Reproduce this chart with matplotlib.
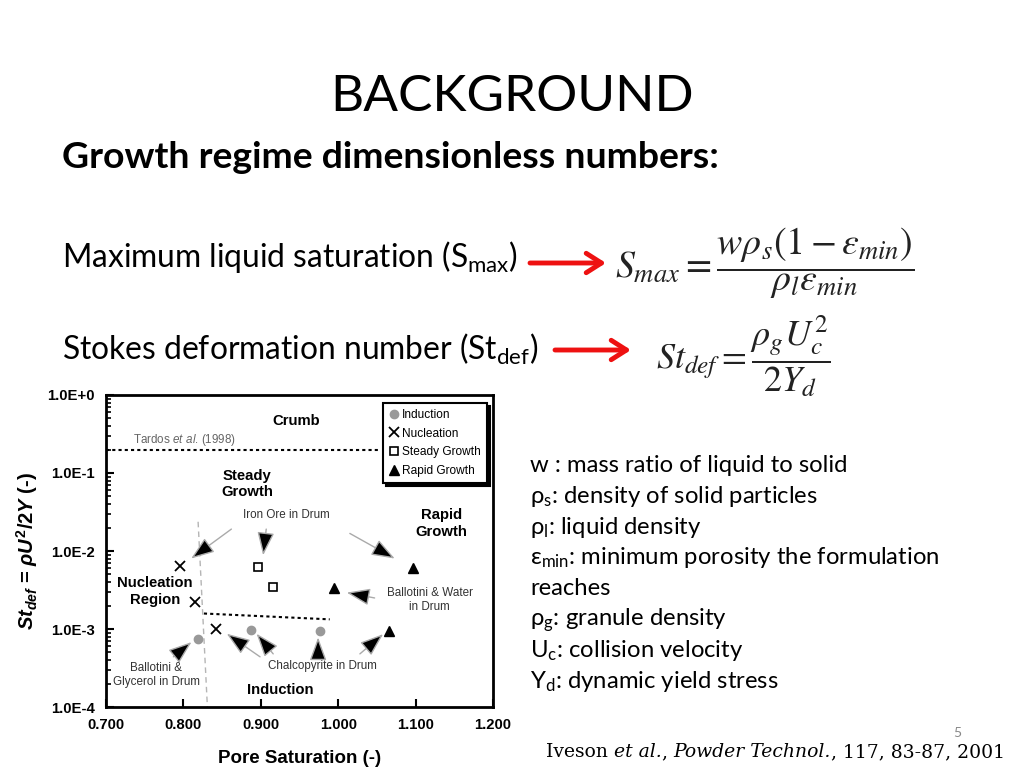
import numpy as np
import matplotlib
matplotlib.use("Agg")
import matplotlib.pyplot as plt
from matplotlib.lines import Line2D

# ---- data ----
induction_x = [0.819, 0.887, 0.976]
induction_y = [0.75e-3, 0.98e-3, 0.95e-3]
nucleation_x = [0.796, 0.815, 0.842]
nucleation_y = [6.4e-3, 2.25e-3, 0.99e-3]
steady_x = [0.896, 0.916]
steady_y = [6.3e-3, 3.5e-3]
rapid_x = [1.096, 0.994, 1.065]
rapid_y = [6.1e-3, 3.4e-3, 0.94e-3]

xticks = [0.7, 0.8, 0.9, 1.0, 1.1, 1.2]
xtick_labels = ["0.700", "0.800", "0.900", "1.000", "1.100", "1.200"]
yticks = [1e-4, 1e-3, 1e-2, 1e-1, 1e0]
ytick_labels = ["1.0E-4", "1.0E-3", "1.0E-2", "1.0E-1", "1.0E+0"]

tardos_y = 0.2
boundary_x = [0.819, 0.831]          # nucleation / induction boundary
boundary_y = [0.0237, 1e-4]
lower_x = [0.8265, 0.989]            # steady growth / induction boundary
lower_y = [1.58e-3, 1.33e-3]

# (text, x, y) of region labels
regions = [("Crumb", 0.946, 0.46), ("Steady\nGrowth", 0.882, 0.072),
           ("Rapid\nGrowth", 1.133, 0.0225), ("Nucleation\nRegion", 0.763, 3.05e-3),
           ("Induction", 0.925, 1.64e-4)]

# annotation labels and arrows (tail -> head)
notes = [("Iron Ore in Drum", 0.933, 0.0288), ("Ballotini & Water\nin Drum", 1.118, 2.34e-3),
         ("Ballotini &\nGlycerol in Drum", 0.765, 2.6e-4), ("Chalcopyrite in Drum", 0.98, 3.36e-4)]
arrows = [((0.862, 0.0191), (0.810, 8.0e-3)),
          ((0.907, 0.0191), (0.903, 8.8e-3)),
          ((1.015, 0.0168), (1.073, 8.0e-3)),
          ((1.047, 2.5e-3), (1.011, 2.93e-3)),
          ((0.787, 4.4e-4), (0.8105, 6.8e-4)),
          ((0.899, 4.4e-4), (0.856, 8.7e-4)),
          ((0.916, 4.8e-4), (0.8945, 8.7e-4)),
          ((0.974, 4.7e-4), (0.974, 7.8e-4)),
          ((1.028, 4.8e-4), (1.058, 8.6e-4))]

# citation pieces: (text, italic?)
citation = [("Iveson ", False), ("et al.", True), (", ", False),
            ("Powder Technol.", True), (", 117, 83-87, 2001", False)]

slide_font = ["Lato", "DejaVu Sans"]
chart_font = "Liberation Sans"

plt.rcParams["mathtext.fontset"] = "custom"
plt.rcParams["mathtext.rm"] = "Lato"
plt.rcParams["mathtext.it"] = "Liberation Sans:italic:bold"
plt.rcParams["mathtext.bf"] = "Liberation Sans:bold"
plt.rcParams["mathtext.sf"] = "Liberation Sans:italic"

fig = plt.figure(figsize=(10.24, 7.68), dpi=100)

# slide layer in pixel coordinates
bg = fig.add_axes([0, 0, 1, 1])
bg.set_xlim(0, 1024)
bg.set_ylim(768, 0)
bg.axis("off")

bg.text(512, 97, "BACKGROUND", fontsize=37, family=slide_font, ha="center", va="center")
bg.text(62, 158, "Growth regime dimensionless numbers:", fontsize=26.9, fontweight="bold",
        family=slide_font, ha="left", va="center")
bg.text(62, 267, r"Maximum liquid saturation (S$_{\mathrm{max}}$)", fontsize=22.9,
        family=slide_font, ha="left", va="baseline")
bg.text(62, 360, r"Stokes deformation number (St$_{\mathrm{def}}$)", fontsize=22.9,
        family=slide_font, ha="left", va="baseline")
for x0, x1, y in [(530, 606, 263), (555, 631, 350)]:
    bg.annotate("", xy=(x1, y), xytext=(x0, y),
                arrowprops=dict(arrowstyle="->,head_length=0.55,head_width=0.35",
                                color="#ee1111", lw=3.5, mutation_scale=20,
                                shrinkA=0, shrinkB=0))
bg.text(615, 263, r"$S_{max} = \dfrac{w\rho_s(1-\epsilon_{min})}{\rho_l\epsilon_{min}}$",
        fontsize=27.3, math_fontfamily="stix", color="#222222", ha="left", va="center")
bg.text(656, 356, r"$St_{def} = \dfrac{\rho_g U_c^2}{2Y_d}$",
        fontsize=26, math_fontfamily="stix", color="#222222", ha="left", va="center")

defs = [r"w : mass ratio of liquid to solid",
        r"ρ$_{\mathrm{s}}$: density of solid particles",
        r"ρ$_{\mathrm{l}}$: liquid density",
        r"ε$_{\mathrm{min}}$: minimum porosity the formulation",
        r"reaches",
        r"ρ$_{\mathrm{g}}$: granule density",
        r"U$_{\mathrm{c}}$: collision velocity",
        r"Y$_{\mathrm{d}}$: dynamic yield stress"]
for i, line in enumerate(defs):
    bg.text(530, 472 + i * 30.8, line, fontsize=17.2, family=slide_font,
            ha="left", va="baseline")

bg.text(957, 733, "5", fontsize=10, color="#888888", family=slide_font, ha="center", va="center")

# citation laid out piece by piece so normal and italic parts join cleanly
renderer = fig.canvas.get_renderer()
cite_texts = []
for s, ital in citation:
    t = bg.text(0, 757, s, fontsize=13.5, family="DejaVu Serif",
                style="italic" if ital else "normal", ha="left", va="baseline")
    cite_texts.append(t)
widths = [t.get_window_extent(renderer).width for t in cite_texts]
x = 1005 - sum(widths)
for t, w in zip(cite_texts, widths):
    t.set_x(x)
    x += w

# ---- chart ----
ax = fig.add_axes([0.1035, 0.0794, 0.378, 0.4063])
ax.set_xscale("linear")
ax.set_yscale("log")
ax.set_xlim(0.7, 1.2)
ax.set_ylim(1e-4, 1e0)

ax.axhline(tardos_y, xmin=0, xmax=0.71, color="black", lw=1.5, ls=(0, (1.5, 1.5)))
ax.plot(boundary_x, boundary_y, color="#b5b5b5", lw=1, ls=(0, (4, 3)))
ax.plot(lower_x, lower_y, color="black", lw=1.5, ls=(0, (1.5, 1.5)))

ax.plot(induction_x, induction_y, "o", color="#999999", ms=6, ls="none")
ax.plot(nucleation_x, nucleation_y, "x", color="black", ms=7, mew=1.3, ls="none")
ax.plot(steady_x, steady_y, "s", mfc="white", mec="black", ms=6, mew=1.2, ls="none")
ax.plot(rapid_x, rapid_y, "^", color="black", ms=7, ls="none")

for (tx, ty), (hx, hy) in arrows:
    ax.annotate("", xy=(hx, hy), xytext=(tx, ty),
                arrowprops=dict(arrowstyle="-|>,head_length=0.6,head_width=0.22",
                                mutation_scale=24, fc="black", ec="#aaaaaa", lw=1,
                                shrinkA=0, shrinkB=0))

for label, x, y in regions:
    ax.text(x, y, label, fontsize=10.7, fontweight="bold", family=chart_font,
            ha="center", va="center", linespacing=1.25)
for label, x, y in notes:
    ax.text(x, y, label, fontsize=8.4, family=chart_font, color="#333333",
            ha="center", va="center", linespacing=1.2)
ax.text(0.7355, 0.264, r"Tardos $\mathsf{et\ al}$. (1998)", fontsize=8.4, family=chart_font,
        color="#666666", ha="left", va="center")

ax.set_xticks(xticks)
ax.set_xticklabels(xtick_labels)
ax.set_yticks(yticks)
ax.set_yticklabels(ytick_labels)
for lbl in ax.get_xticklabels() + ax.get_yticklabels():
    lbl.set_fontweight("bold")
    lbl.set_family(chart_font)
    lbl.set_fontsize(10.7)
ax.tick_params(axis="both", which="major", direction="in", length=6, width=1.5, pad=8)
ax.tick_params(axis="y", which="minor", direction="in", length=3.5, width=1.2)
ax.tick_params(top=False, right=False, which="both")
for s in ax.spines.values():
    s.set_linewidth(2)

ax.set_xlabel("Pore Saturation (-)", fontsize=13.5, fontweight="bold", family=chart_font, labelpad=13)
ax.set_ylabel(r"$St_{def}$ = $\rho U^{\mathbf{2}}$/2$Y$ (-)", fontsize=14.5, fontweight="bold",
              family=chart_font, labelpad=5)

handles = [Line2D([], [], marker="o", color="#999999", ls="none", ms=6),
           Line2D([], [], marker="x", color="black", ls="none", ms=7, mew=1.3),
           Line2D([], [], marker="s", mfc="white", mec="black", ls="none", ms=6, mew=1.2),
           Line2D([], [], marker="^", color="black", ls="none", ms=7)]
leg = ax.legend(handles, ["Induction", "Nucleation", "Steady Growth", "Rapid Growth"],
                loc="upper right", bbox_to_anchor=(0.984, 0.974), borderaxespad=0,
                fancybox=False, edgecolor="black", framealpha=1,
                shadow={"color": "black", "alpha": 1},
                prop={"family": chart_font, "size": 8.6},
                handlelength=0.8, handletextpad=0.3, labelspacing=0.55,
                borderpad=0.5)
leg.get_frame().set_linewidth(1.5)

fig.savefig("out.png", dpi=100)
